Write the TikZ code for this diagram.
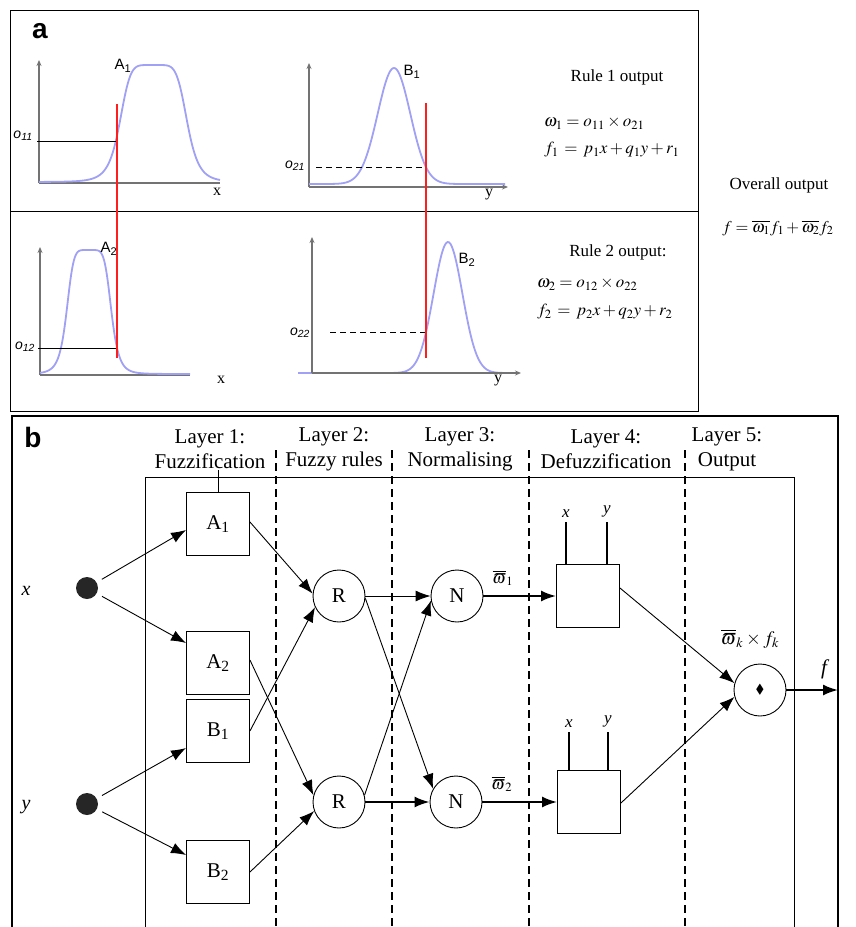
\documentclass[tikz,border=0pt]{standalone}
\usepackage{mathptmx}
\usepackage{amssymb}
\usepackage{fontspec}
\setmainfont{Liberation Serif}
\newfontfamily\arialf{Liberation Sans}
\usetikzlibrary{arrows.meta,calc}
\definecolor{mfblue}{RGB}{160,160,245}
\definecolor{axgray}{RGB}{115,115,115}
\definecolor{cutred}{RGB}{255,30,30}
\begin{document}
\begin{tikzpicture}[x=1pt,y=-1pt,
  declare function={
    bell(\t,\c,\a)=1/(1+((\t-\c)/\a)*((\t-\c)/\a)*((\t-\c)/\a)*((\t-\c)/\a)*((\t-\c)/\a)*((\t-\c)/\a));
    gss(\t,\c,\s)=exp(-0.5*((\t-\c)/\s)*((\t-\c)/\s));
  },
  mf/.style={draw=mfblue,line width=1.8pt},
  axisline/.style={draw=axgray,line width=1.4pt},
  axarrow/.style={axisline,-{Stealth[length=6pt,width=5pt]}},
  cut/.style={draw=cutred,line width=1.4pt},
  sflab/.style={font=\arialf\fontsize{15}{15}\selectfont,inner sep=1pt},
  olab/.style={font=\arialf\itshape\fontsize{14}{14}\selectfont,inner sep=1pt},
  axlab/.style={font=\fontsize{16}{16}\selectfont,inner sep=1pt},
  rtxt/.style={font=\fontsize{17}{17}\selectfont,inner sep=1pt},
  eq/.style={font=\fontsize{17}{17}\selectfont,inner sep=0pt,anchor=west},
  hdr/.style={font=\fontsize{21}{25}\selectfont,align=center,inner sep=1pt},
  fbox/.style={draw,line width=0.9pt,minimum width=63pt,minimum height=63pt,inner sep=0pt,font=\fontsize{21}{21}\selectfont},
  circ/.style={draw,line width=0.9pt,circle,minimum size=52pt,inner sep=0pt,font=\fontsize{21}{21}\selectfont},
  indot/.style={circle,fill=black!85,minimum size=22pt,inner sep=0pt},
  arr/.style={line width=0.9pt,-{Latex[length=15pt,width=11pt]}},
  tarr/.style={line width=2pt,-{Latex[length=15pt,width=11pt]}},
  sep/.style={line width=1.1pt,dash pattern=on 8pt off 5pt},
  inl/.style={font=\itshape\fontsize{17}{17}\selectfont,inner sep=1pt}
]
\useasboundingbox (0,0) rectangle (856,927);

% ================= panel a =================
\draw[line width=0.9pt] (10,10) rectangle (698,411);
\draw[line width=0.9pt] (10,211) -- (698,211);
\node[font=\arialf\bfseries\fontsize{28}{28}\selectfont,inner sep=0pt] (pa) at (40,31) {a};

% top-left: A1
\draw[axarrow] (39,183) -- (39,60);
\draw[axisline] (39,183) -- (220,183);
\draw[mf] plot[domain=39:220,samples=160,smooth] (\x,{182-117*bell(\x,153.5,34)});
\node[sflab] (lA1) at (123,66) {A\textsubscript{1}};
\node[olab] (lo11) at (23,136) {o\textsubscript{11}};
\coordinate (o11s) at (37,141);
\coordinate (o11e) at (117,141);
\draw[line width=0.9pt] (o11s) -- (o11e);
\node[axlab] (lx1) at (217,192) {x};

% top-middle: B1
\draw[axarrow] (309,187) -- (309,63);
\draw[axarrow] (309,187) -- (508,187);
\draw[mf] plot[domain=309:505,samples=160,smooth] (\x,{184-116*gss(\x,394,16.3)});
\node[sflab] (lB1) at (412,72) {B\textsubscript{1}};
\node[olab] (lo21) at (295,166) {o\textsubscript{21}};
\coordinate (o21s) at (316,167);
\coordinate (o21e) at (426,167);
\draw[line width=0.9pt,dash pattern=on 6pt off 4pt] (o21s) -- (o21e);
\node[axlab] (ly1) at (489,195) {y};

% bottom-left: A2
\draw[axarrow] (40,375) -- (40,247);
\draw[axisline] (40,375) -- (190,375);
\draw[mf] plot[domain=40:190,samples=160,smooth] (\x,{374-124*bell(\x,89,22.5)});
\node[sflab] (lA2) at (109,249) {A\textsubscript{2}};
\node[olab] (lo12) at (25,347) {o\textsubscript{12}};
\coordinate (o12s) at (38,348);
\coordinate (o12e) at (117,348);
\draw[line width=0.9pt] (o12s) -- (o12e);
\node[axlab] (lx2) at (221,380) {x};

% bottom-middle: B2
\draw[mf] plot[domain=298:505,samples=160,smooth] (\x,{373-131*gss(\x,448,14.4)});
\draw[axarrow] (312,373) -- (312,237);
\draw[axarrow] (312,373) -- (521,373);
\node[sflab] (lB2) at (467,260) {B\textsubscript{2}};
\node[olab] (lo22) at (300,333) {o\textsubscript{22}};
\coordinate (o22s) at (330,332);
\coordinate (o22e) at (426,332);
\draw[line width=0.9pt,dash pattern=on 6pt off 4pt] (o22s) -- (o22e);
\node[axlab] (ly2) at (498,381) {y};

% red cut lines
\coordinate (r1t) at (117,104);
\coordinate (r1b) at (117,358);
\coordinate (r2t) at (426,103);
\coordinate (r2b) at (426,358);
\draw[cut] (r1t) -- (r1b);
\draw[cut] (r2t) -- (r2b);

% rule texts
\node[rtxt] (rule1) at (617,77) {Rule 1 output};
\node[eq] (w1) at (544,123) {$\omega_1 = o_{11}\times o_{21}$};
\node[eq] (f1) at (544,150) {$f_1 \,=\, p_1x + q_1y + r_1$};
\node[rtxt] (rule2) at (618,252) {Rule 2 output:};
\node[eq] (w2) at (537,284) {$\omega_2 = o_{12}\times o_{22}$};
\node[eq] (f2) at (537,312) {$f_2 \,=\, p_2x + q_2y + r_2$};
\node[rtxt] (overall) at (779,185) {Overall output};
\node[font=\fontsize{16.5}{17}\selectfont,inner sep=0pt] (ftot) at (778,228) {$f = \overline{\omega_1}f_1 + \overline{\omega_2}f_2$};

% ================= panel b =================
\draw[line width=2pt] (12,927) -- (12,416) -- (838,416) -- (838,927);
\node[font=\arialf\bfseries\fontsize{28}{28}\selectfont,inner sep=0pt] (pb) at (33,437) {b};
\draw[line width=0.9pt] (145,927) -- (145,477) -- (794,477) -- (794,927);
\foreach \xx in {276,392,529,685} \draw[sep] (\xx,450) -- (\xx,927);

\node[hdr] (L1) at (210,449) {Layer 1:\\Fuzzification};
\node[hdr] (L2) at (334,449) {Layer 2:\\Fuzzy rules};
\node[hdr] (L3) at (460,449) {Layer 3:\\Normalising};
\node[hdr] (L4) at (606,449) {Layer 4:\\Defuzzification};
\node[hdr] (L5) at (727,449) {Layer 5:\\Output};

% inputs
\node[indot] (X) at (87,588) {};
\node[indot] (Y) at (87,804) {};
\node[font=\itshape\fontsize{20}{20}\selectfont,inner sep=1pt] (lx) at (26,591) {x};
\node[font=\itshape\fontsize{20}{20}\selectfont,inner sep=1pt] (ly) at (26,807) {y};

% layer 1
\node[fbox] (A1) at (218,524) {A\textsubscript{1}};
\node[fbox] (A2) at (218,663) {A\textsubscript{2}};
\node[fbox] (B1) at (218,731) {B\textsubscript{1}};
\node[fbox] (B2) at (218,872) {B\textsubscript{2}};
\draw[line width=0.9pt] (A1.north) -- (A1.north |- L1.south);

% layer 2,3
\node[circ] (R1) at (339,596) {R};
\node[circ] (R2) at (339,802) {R};
\node[circ] (N1) at (457,596) {N};
\node[circ] (N2) at (456,802) {N};

% layer 4
\node[fbox] (D1) at (588,596) {};
\node[fbox] (D2) at (589,802) {};
\draw[line width=1.8pt] ($(D1.north)+(-22,0)$) -- ++(0,-42) node[inl,above=3pt] (D1x) {x};
\draw[line width=1.8pt] ($(D1.north)+(19,0)$) -- ++(0,-42) node[inl,above=3pt] (D1y) {y};
\draw[line width=1.8pt] ($(D2.north)+(-20,0)$) -- ++(0,-38) node[inl,above=3pt] (D2x) {x};
\draw[line width=1.8pt] ($(D2.north)+(19,0)$) -- ++(0,-38) node[inl,above=3pt] (D2y) {y};

% layer 5
\node[circ] (O) at (760,690) {\fontsize{13}{13}\selectfont$\blacklozenge$};
\coordinate (fend) at (838,690);
\node[font=\itshape\fontsize{21}{21}\selectfont,inner sep=1pt] (lf) at (824,669) {f};
\node[font=\fontsize{19}{19}\selectfont,inner sep=1pt] (lwk) at (750,639) {$\overline{\varpi}_{k}\times f_k$};
\node[font=\fontsize{17}{17}\selectfont,inner sep=1pt] (lw1) at (503,578) {$\overline{\varpi}_{1}$};
\node[font=\fontsize{17}{17}\selectfont,inner sep=1pt] (lw2) at (502,784) {$\overline{\varpi}_{2}$};

% connections
\draw[arr,shorten <=6pt] (X) -- ($(A1.west)+(0,6)$);
\draw[arr,shorten <=6pt] (X) -- ($(A2.west)+(0,-20)$);
\draw[arr,shorten <=6pt] (Y) -- ($(B1.west)+(0,17)$);
\draw[arr,shorten <=6pt] (Y) -- ($(B2.west)+(0,-17)$);

\draw[arr] ($(A1.east)+(0,-2)$) -- (R1.175);
\draw[arr] (B1.east) -- (R1.205);
\draw[arr] ($(A2.east)+(0,-3)$) -- (R2.165);
\draw[arr] (B2.east) -- (R2.200);

\draw[arr] (R1.east) -- (N1.west);
\draw[arr] (R1.355) -- (N2.150);
\draw[arr] (R2.15) -- (N1.190);
\draw[tarr] (R2.east) -- (N2.west);

\draw[tarr] (N1.east) -- (D1.west);
\draw[tarr] (N2.east) -- (D2.west);

\draw[arr] ($(D1.east)+(0,-8)$) -- (O.165);
\draw[arr] ($(D2.east)+(0,1)$) -- (O.195);
\draw[tarr] (O.east) -- (fend);
\end{tikzpicture}
\end{document}
